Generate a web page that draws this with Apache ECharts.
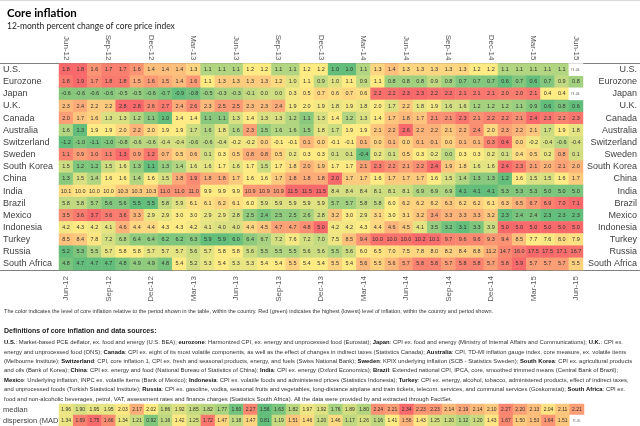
<!DOCTYPE html>
<html>
<head>
<meta charset="utf-8">
<title>Core inflation</title>
<script src="https://cdn.jsdelivr.net/npm/echarts@6/dist/echarts.min.js"></script>
<style>
html, body { margin: 0; padding: 0; background: #fff; }
#main { width: 640px; height: 426px; }
</style>
</head>
<body>
<div id="main"></div>
<script>
var months = ['Jun-12','Jul-12','Aug-12','Sep-12','Oct-12','Nov-12','Dec-12','Jan-13','Feb-13','Mar-13',
  'Apr-13','May-13','Jun-13','Jul-13','Aug-13','Sep-13','Oct-13','Nov-13','Dec-13','Jan-14','Feb-14',
  'Mar-14','Apr-14','May-14','Jun-14','Jul-14','Aug-14','Sep-14','Oct-14','Nov-14','Dec-14','Jan-15',
  'Feb-15','Mar-15','Apr-15','May-15','Jun-15'];

var countries = ['U.S.','Eurozone','Japan','U.K.','Canada','Australia','Switzerland','Sweden',
  'South Korea','China','India','Brazil','Mexico','Indonesia','Turkey','Russia','South Africa'];

// 12-month % change, null = n.a.
var us          = [1.8,1.8,1.6,1.7,1.7,1.6,1.4,1.4,1.4,1.3,1.1,1.1,1.1,1.2,1.2,1.1,1.1,1.2,1.2,1.0,1.0,1.1,1.3,1.4,1.3,1.3,1.3,1.3,1.3,1.2,1.2,1.1,1.1,1.1,1.1,1.1,null];
var eurozone    = [1.8,1.9,1.7,1.8,1.8,1.5,1.6,1.5,1.4,1.6,1.1,1.3,1.3,1.3,1.3,1.2,1.0,1.1,0.9,1.0,1.1,0.9,1.1,0.8,0.8,0.8,0.9,0.8,0.7,0.7,0.7,0.6,0.7,0.6,0.7,0.9,0.8];
var japan       = [-0.6,-0.6,-0.6,-0.6,-0.5,-0.5,-0.6,-0.7,-0.9,-0.8,-0.5,-0.3,-0.3,-0.1,0.0,0.0,0.3,0.5,0.7,0.6,0.7,0.6,2.2,2.2,2.3,2.3,2.2,2.2,2.1,2.1,2.1,2.0,2.0,2.1,0.4,0.4,null];
var uk          = [2.3,2.4,2.2,2.2,2.8,2.8,2.6,2.7,2.4,2.6,2.3,2.5,2.5,2.3,2.3,2.4,1.9,2.0,1.9,1.8,1.9,1.8,2.0,1.7,2.2,1.8,1.9,1.6,1.6,1.2,1.2,1.2,1.1,0.9,0.6,0.8,0.6];
var canada      = [2.0,1.7,1.6,1.3,1.3,1.2,1.1,1.0,1.4,1.4,1.1,1.1,1.3,1.4,1.3,1.3,1.2,1.1,1.3,1.4,1.2,1.3,1.4,1.7,1.8,1.7,2.1,2.1,2.3,2.1,2.2,2.2,2.1,2.4,2.3,2.2,2.3];
var australia   = [1.6,1.3,1.9,1.9,2.0,2.2,2.0,1.9,1.9,1.7,1.6,1.8,1.6,2.3,1.5,1.6,1.6,1.5,1.8,1.7,1.9,1.9,2.1,2.2,2.6,2.2,2.2,2.1,2.2,2.4,2.0,2.3,2.2,2.1,1.7,1.9,1.8];
var switzerland = [-1.2,-1.0,-1.1,-1.0,-0.8,-0.6,-0.6,-0.4,-0.4,-0.6,-0.6,-0.4,-0.2,-0.2,0.0,-0.1,-0.1,0.1,0.0,-0.1,-0.1,0.1,0.0,0.1,0.0,0.1,0.1,0.0,0.1,0.1,0.3,0.4,0.0,-0.2,-0.4,-0.6,-0.4];
var sweden      = [1.1,0.9,1.0,1.1,1.3,0.9,1.2,0.7,0.5,0.6,0.1,0.3,0.5,0.8,0.8,0.5,0.2,0.3,0.3,0.1,0.1,-0.4,0.2,0.1,0.5,0.3,0.2,0.0,0.3,0.3,0.2,0.1,0.4,0.5,0.2,0.8,0.1];
var southKorea  = [1.5,1.2,1.2,1.5,1.6,1.3,1.1,1.3,1.4,1.6,1.6,1.7,1.6,1.7,1.5,1.7,1.8,2.0,1.9,1.7,1.7,2.1,2.3,2.2,2.1,2.2,2.4,1.9,1.8,1.6,1.6,2.4,2.3,2.1,2.0,2.1,2.0];
var china       = [1.3,1.5,1.4,1.6,1.6,1.4,1.6,1.5,1.8,1.9,1.8,1.8,1.7,1.6,1.6,1.7,1.8,1.8,1.8,2.0,1.7,1.7,1.6,1.7,1.7,1.7,1.6,1.5,1.4,1.3,1.3,1.2,1.6,1.5,1.5,1.6,1.7];
var india       = [10.1,10.0,10.0,10.0,10.3,10.3,10.3,11.0,11.0,11.0,9.9,9.9,9.9,10.9,10.9,10.9,11.5,11.5,11.5,8.4,8.4,8.4,8.1,8.1,8.1,6.9,6.9,6.9,4.1,4.1,4.1,5.3,5.3,5.3,5.0,5.0,5.0];
var brazil      = [5.8,5.8,5.7,5.6,5.6,5.5,5.5,5.8,5.9,6.1,6.1,6.2,6.1,6.0,5.9,5.9,5.9,5.9,5.9,5.7,5.7,5.8,5.8,6.0,6.2,6.2,6.2,6.3,6.2,6.2,6.1,6.3,6.5,6.7,6.9,7.0,7.1];
var mexico      = [3.5,3.6,3.7,3.6,3.6,3.3,2.9,2.9,3.0,3.0,2.9,2.9,2.8,2.5,2.4,2.5,2.5,2.6,2.8,3.2,3.0,2.9,3.1,3.0,3.1,3.2,3.4,3.3,3.3,3.3,3.2,2.3,2.4,2.4,2.3,2.3,2.3];
var indonesia   = [4.2,4.3,4.2,4.1,4.6,4.4,4.4,4.3,4.3,4.2,4.1,4.0,4.0,4.4,4.5,4.7,4.7,4.8,5.0,4.2,4.2,4.3,4.4,4.6,4.5,4.1,3.5,3.2,3.1,3.3,3.9,5.0,5.0,5.0,5.0,5.0,5.0];
var turkey      = [8.5,8.4,7.8,7.2,6.8,6.4,6.4,6.2,6.2,6.3,5.9,5.9,6.0,6.4,6.7,7.2,7.6,7.2,7.0,7.5,8.5,9.4,10.0,10.0,10.0,10.2,10.1,9.7,9.6,9.6,9.3,9.4,8.5,7.7,7.6,8.0,7.9];
var russia      = [5.2,5.3,5.5,5.7,5.8,5.8,5.7,5.7,5.7,5.6,5.7,5.8,5.8,5.6,5.5,5.5,5.5,5.6,5.6,5.5,5.6,6.0,6.5,7.0,7.5,7.8,8.0,8.2,8.4,8.8,11.2,14.7,16.0,17.5,17.5,17.1,16.7];
var southAfrica = [4.8,4.7,4.7,4.7,4.8,4.9,4.9,4.8,5.4,5.2,5.3,5.4,5.3,5.3,5.4,5.4,5.5,5.4,5.4,5.5,5.4,5.6,5.5,5.6,5.7,5.8,5.8,5.7,5.8,5.8,5.7,5.8,5.9,5.7,5.7,5.7,5.5];

var summaryNames = ['median', 'dispersion (MAD)'];
var median      = [1.96,1.90,1.95,1.95,2.03,2.17,2.02,1.86,1.92,1.85,1.82,1.77,1.60,2.27,1.56,1.63,1.82,1.97,1.92,1.76,1.89,1.80,2.24,2.21,2.34,2.23,2.23,2.14,2.19,2.14,2.10,2.27,2.20,2.13,2.04,2.11,2.21];
var dispersion  = [1.34,1.69,1.75,1.66,1.34,1.21,0.92,1.16,1.42,1.25,1.72,1.47,1.18,1.47,0.81,1.19,1.51,1.46,1.20,1.46,1.17,1.26,1.16,1.41,1.56,1.43,1.25,1.20,1.12,1.20,1.43,1.67,1.50,1.53,1.64,1.51,null];

var rows = [us, eurozone, japan, uk, canada, australia, switzerland, sweden, southKorea,
  china, india, brazil, mexico, indonesia, turkey, russia, southAfrica];

// excel style 3-colour scale per row: min -> 0, 50th percentile -> 0.5, max -> 1
function rowScale(arr) {
  var v = arr.filter(function (d) { return d !== null; }).sort(function (a, b) { return a - b; });
  var min = v[0], max = v[v.length - 1];
  var r = 0.5 * (v.length - 1), lo = Math.floor(r);
  var mid = v[lo] + (v[Math.ceil(r)] - v[lo]) * (r - lo);
  return function (d) {
    if (d <= mid) return mid === min ? 0 : 0.5 * (d - min) / (mid - min);
    return max === mid ? 1 : 0.5 + 0.5 * (d - mid) / (max - mid);
  };
}

function buildCells(list) {
  var cells = [], missing = [];
  list.forEach(function (arr, y) {
    var f = rowScale(arr);
    arr.forEach(function (d, x) {
      if (d === null) missing.push([x, y, 0]);
      else cells.push([x, y, d, f(d)]);
    });
  });
  return { cells: cells, missing: missing };
}

var main = buildCells(rows);
var summary = buildCells([median, dispersion]);

var FONT = 'Liberation Sans, Arial, sans-serif';

var monthAxis = function (pos) {
  return {
    type: 'category', data: months, position: pos, gridIndex: 0,
    axisLine: { show: false }, axisTick: { show: false }, splitLine: { show: false },
    axisLabel: {
      rotate: 90, interval: 2, fontSize: 8, color: '#595959',
      fontFamily: FONT, margin: pos === 'top' ? 3 : 6
    }
  };
};

var note = 'The color indicates the level of core inflation relative to the period shown in the table, within the country. Red (green) indicates the highest (lowest) level of inflation, within the country and period shown.';

var defLines = [
  '{b|U.S.}: Market-based PCE deflator, ex. food and energy (U.S. BEA); {b|eurozone}: Harmonized CPI, ex. energy and unprocessed food (Eurostat); {b|Japan}: CPI ex. food and energy (Ministry of Internal Affairs and Communications); {b|U.K.}: CPI ex.',
  'energy and unprocessed food (ONS); {b|Canada}: CPI ex. eight of its most volatile components, as well as the effect of changes in indirect taxes (Statistics Canada); {b|Australia}: CPI, TD-MI inflation gauge index, core measure, ex. volatile items',
  '(Melbourne Institute); {b|Switzerland}: CPI, core inflation 1, CPI ex. fresh and seasonal products, energy, and fuels (Swiss National Bank); {b|Sweden}: KPIX underlying inflation (SCB - Statistics Sweden); {b|South Korea}: CPI ex. agricultural products',
  'and oils (Bank of Korea); {b|China}: CPI ex. energy and food (National Bureau of Statistics of China); {b|India}: CPI ex. energy (Oxford Economics); {b|Brazil}: Extended national CPI, IPCA, core, smoothed trimmed means (Central Bank of Brazil);',
  '{b|Mexico}: Underlying inflation, INPC ex. volatile items (Bank of Mexico); {b|Indonesia}: CPI ex. volatile foods and administered prices (Statistics Indonesia); {b|Turkey}: CPI ex. energy, alcohol, tobacco, administered products, effect of indirect taxes,',
  'and unprocessed foods (Turkish Statistical Institute); {b|Russia}: CPI ex. gasoline, vodka, seasonal fruits and vegetables, long-distance airplane and train tickets, telecom. services, and communal services (Goskomstat); {b|South Africa}: CPI ex.',
  'food and non-alcoholic beverages, petrol, VAT, assessment rates and finance charges (Statistics South Africa). All the data were provided by and extracted through FactSet.'
];

// pick a font size so the widest source line fits the page width
var ctx = document.createElement('canvas').getContext('2d');
function lineWidth(t, size) {
  var w = 0;
  t.split(/(\{b\|[^}]*\})/).forEach(function (part) {
    var bold = part.indexOf('{b|') === 0;
    ctx.font = (bold ? 'bold ' : '') + size + 'px ' + FONT;
    w += ctx.measureText(bold ? part.slice(3, -1) : part).width;
  });
  return w;
}
var defSize = 10 * 630 / Math.max.apply(null, defLines.slice(0, 6).map(function (t) { return lineWidth(t, 10); }));
var noteSize = 10 * 490 / lineWidth(note, 10);

var graphics = [
  { type: 'line', shape: { x1: 0, y1: 0.5, x2: 640, y2: 0.5 }, style: { stroke: '#d9d9d9', lineWidth: 1 } },
  { type: 'line', shape: { x1: 0, y1: 63.5, x2: 640, y2: 63.5 }, style: { stroke: '#808080', lineWidth: 1 } },
  { type: 'line', shape: { x1: 0, y1: 270.5, x2: 640, y2: 270.5 }, style: { stroke: '#808080', lineWidth: 1 } },
  { type: 'text', x: 4, y: 311, style: {
      text: note, fontSize: noteSize, fontFamily: FONT, fill: '#333', textVerticalAlign: 'middle' } },
  { type: 'text', x: 4, y: 331, style: {
      text: 'Definitions of core inflation and data sources:',
      fontSize: 7, fontWeight: 'bold', fontFamily: FONT, fill: '#222', textVerticalAlign: 'middle' } }
];
defLines.forEach(function (t, i) {
  graphics.push({ type: 'text', x: 4, y: 342.5 + i * 9.4, style: {
    text: t, fontSize: defSize, fontFamily: FONT, fill: '#333', textVerticalAlign: 'middle',
    rich: { b: { fontWeight: 'bold', fontSize: defSize, fontFamily: FONT, fill: '#111' } } } });
});

var chart = echarts.init(document.getElementById('main'), null, { renderer: 'canvas' });

var option = {
  backgroundColor: '#fff',
  animation: false,
  title: {
    text: 'Core inflation',
    subtext: '12-month percent change of core price index',
    left: 2, top: 2, itemGap: 3,
    textStyle: { fontSize: 11.5, fontWeight: 'bold', color: '#000', fontFamily: 'Lato, ' + FONT },
    subtextStyle: { fontSize: 8.5, color: '#222', fontFamily: 'Lato, ' + FONT }
  },
  grid: [
    { left: 59, right: 56, top: 63.5, height: 206.5 },
    { left: 59, right: 56, top: 404, height: 22 }
  ],
  xAxis: [
    monthAxis('top'),
    monthAxis('bottom'),
    { type: 'category', data: months, gridIndex: 1, show: false }
  ],
  yAxis: [
    { type: 'category', data: countries, inverse: true, gridIndex: 0, position: 'left',
      axisLine: { show: false }, axisTick: { show: false },
      axisLabel: { align: 'left', margin: 56, fontSize: 9, color: '#404040', fontFamily: FONT } },
    { type: 'category', data: countries, inverse: true, gridIndex: 0, position: 'right',
      axisLine: { show: false }, axisTick: { show: false },
      axisLabel: { align: 'right', margin: 54, fontSize: 9, color: '#404040', fontFamily: FONT } },
    { type: 'category', data: summaryNames, inverse: true, gridIndex: 1,
      axisLine: { show: false }, axisTick: { show: false },
      axisLabel: { align: 'left', margin: 56, fontSize: 7.5, color: '#404040', fontFamily: FONT } }
  ],
  visualMap: {
    type: 'continuous', show: false, dimension: 3, min: 0, max: 1, seriesIndex: [0, 2],
    inRange: { color: ['#63BE7B', '#FFEB84', '#F8696B'] }
  },
  series: [
    {
      type: 'heatmap', xAxisIndex: 0, yAxisIndex: 0, data: main.cells,
      itemStyle: { borderWidth: 0 },
      label: { show: true, fontSize: 5.5, color: '#333', fontFamily: FONT,
        formatter: function (p) { return p.value[2].toFixed(1); } }
    },
    {
      type: 'heatmap', xAxisIndex: 0, yAxisIndex: 0, data: main.missing,
      itemStyle: { color: '#fff', borderWidth: 0 },
      label: { show: true, fontSize: 5.5, color: '#7f7f7f', fontFamily: FONT, formatter: 'n.a.' }
    },
    {
      type: 'heatmap', xAxisIndex: 2, yAxisIndex: 2, data: summary.cells,
      itemStyle: { borderWidth: 0 },
      label: { show: true, fontSize: 5, color: '#333', fontFamily: FONT,
        formatter: function (p) { return p.value[2].toFixed(2); } }
    },
    {
      type: 'heatmap', xAxisIndex: 2, yAxisIndex: 2, data: summary.missing,
      itemStyle: { color: '#fff', borderWidth: 0 },
      label: { show: true, fontSize: 5, color: '#7f7f7f', fontFamily: FONT, formatter: 'n.a.' }
    }
  ],
  graphic: graphics
};

chart.setOption(option);
</script>
</body>
</html>
